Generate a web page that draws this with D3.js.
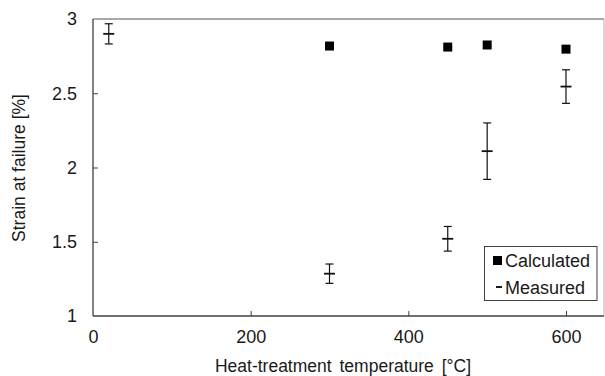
<!DOCTYPE html>
<html>
<head>
<meta charset="utf-8">
<script src="https://cdn.jsdelivr.net/npm/d3@7"></script>
<style>
  body { margin: 0; background: #fff; }
  text { font-family: "Liberation Sans", Arial, sans-serif; fill: #1a1a1a; }
</style>
</head>
<body>
<svg id="chart" width="605" height="376"></svg>
<script>
// Calculated strain at failure
var calcTemps = [300, 450, 500, 600];
var calcValues = [2.818, 2.811, 2.825, 2.797];

// Measured strain at failure with error bars
var measTemps = [20, 300, 450, 500, 600];
var measValues = [2.90, 1.285, 1.52, 2.11, 2.545];
var measErrors = [0.068, 0.065, 0.083, 0.19, 0.113];

var xTicks = [0, 200, 400, 600];
var yTicks = [1, 1.5, 2, 2.5, 3];

var svg = d3.select("#chart");

var plotLeft = 93, plotRight = 604, plotTop = 19, plotBottom = 316;

var x = d3.scaleLinear().domain([0, 600]).range([plotLeft, 566]);
var y = d3.scaleLinear().domain([1, 3]).range([plotBottom, plotTop]);

var axisColor = "#404040";

// frame: top line dark, right edge faint
svg.append("line")
    .attr("x1", plotLeft).attr("x2", plotRight)
    .attr("y1", plotTop).attr("y2", plotTop)
    .style("stroke", "#555").style("stroke-width", 1.2);
svg.append("line")
    .attr("x1", plotRight).attr("x2", plotRight)
    .attr("y1", plotTop).attr("y2", plotBottom)
    .style("stroke", "#b0b0b0").style("stroke-width", 1);

// x axis with inward ticks
var xAxis = svg.append("g")
    .attr("transform", "translate(0," + plotBottom + ")")
    .call(d3.axisBottom(x).tickValues(xTicks).tickSize(-5).tickPadding(13).tickFormat(d3.format("d")));
xAxis.select(".domain").attr("d", "M" + plotLeft + ",0H" + plotRight).style("stroke", axisColor).style("stroke-width", 1.3);
xAxis.selectAll(".tick line").style("stroke", axisColor);
xAxis.selectAll(".tick text").style("font-size", "18px").attr("dy", "0.8em");
xAxis.selectAll(".tick").filter(function(d) { return d === 0; }).select("line").remove();

// y axis with inward ticks
var yAxis = svg.append("g")
    .attr("transform", "translate(" + plotLeft + ",0)")
    .call(d3.axisLeft(y).tickValues(yTicks).tickSize(-5).tickPadding(16).tickFormat(function(d) { return d3.format("~g")(d); }));
yAxis.select(".domain").attr("d", "M0," + plotTop + "V" + plotBottom).style("stroke", axisColor).style("stroke-width", 1.3);
yAxis.selectAll(".tick line").style("stroke", axisColor);
yAxis.selectAll(".tick text").style("font-size", "18px");
yAxis.selectAll(".tick").filter(function(d) { return d === 1 || d === 3; }).select("line").remove();

// axis titles
svg.append("text")
    .attr("x", 343)
    .attr("y", 372)
    .attr("text-anchor", "middle")
    .style("font-size", "17.5px")
    .style("word-spacing", "3px")
    .text("Heat-treatment temperature [°C]");

svg.append("text")
    .attr("transform", "translate(25,168) rotate(-90)")
    .attr("text-anchor", "middle")
    .style("font-size", "17.5px")
    .text("Strain at failure [%]");

// measured error bars
var meas = measTemps.map(function(t, i) { return { t: t, v: measValues[i], e: measErrors[i] }; });
var eb = svg.append("g").selectAll("g")
    .data(meas)
    .enter().append("g")
    .style("stroke", "#111");
eb.append("line")
    .attr("x1", function(d) { return x(d.t); })
    .attr("x2", function(d) { return x(d.t); })
    .attr("y1", function(d) { return y(d.v + d.e); })
    .attr("y2", function(d) { return y(d.v - d.e); })
    .style("stroke-width", 1.2);
[1, -1].forEach(function(s) {
    eb.append("line")
        .attr("x1", function(d) { return x(d.t) - 4; })
        .attr("x2", function(d) { return x(d.t) + 4; })
        .attr("y1", function(d) { return y(d.v + s * d.e); })
        .attr("y2", function(d) { return y(d.v + s * d.e); })
        .style("stroke-width", 1.2);
});
eb.append("line")
    .attr("x1", function(d) { return x(d.t) - 5.5; })
    .attr("x2", function(d) { return x(d.t) + 5.5; })
    .attr("y1", function(d) { return y(d.v); })
    .attr("y2", function(d) { return y(d.v); })
    .style("stroke-width", 1.8);

// calculated squares
svg.append("g").selectAll("rect")
    .data(calcTemps)
    .enter().append("rect")
    .attr("x", function(d) { return x(d) - 4.5; })
    .attr("y", function(d, i) { return y(calcValues[i]) - 4.5; })
    .attr("width", 9)
    .attr("height", 9)
    .style("fill", "#000");

// legend
var lg = svg.append("g");
lg.append("rect")
    .attr("x", 484.5).attr("y", 246.5)
    .attr("width", 112.5).attr("height", 54)
    .style("fill", "#fff")
    .style("stroke", "#404040");
lg.append("rect")
    .attr("x", 493).attr("y", 256)
    .attr("width", 9).attr("height", 9)
    .style("fill", "#000");
lg.append("line")
    .attr("x1", 496).attr("x2", 502)
    .attr("y1", 287).attr("y2", 287)
    .style("stroke", "#000").style("stroke-width", 1.8);
lg.append("text").attr("x", 505).attr("y", 266.5).style("font-size", "18px").text("Calculated");
lg.append("text").attr("x", 505).attr("y", 293.5).style("font-size", "18px").text("Measured");
</script>
</body>
</html>
